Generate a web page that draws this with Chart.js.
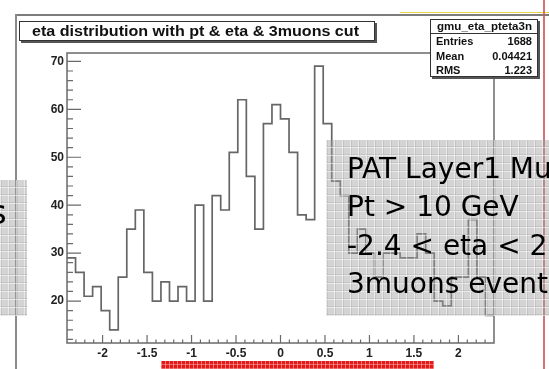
<!DOCTYPE html>
<html>
<head>
<meta charset="utf-8">
<script src="https://cdn.jsdelivr.net/npm/chart.js@4.4.1/dist/chart.umd.min.js"></script>
<style>
  body { margin: 0; background: #fff; }
  #wrap { position: relative; width: 549px; height: 369px; overflow: hidden; background: #fff; }
  #grafico { position: absolute; left: 0; top: 0; }
  .caja { position: absolute; background: #fff; border: 1px solid #333; box-shadow: 2px 2px 0 #555; font-family: "Liberation Sans", Arial, sans-serif; font-weight: bold; color: #111; }
  .linea { position: absolute; white-space: nowrap; transform-origin: 0 50%; }
  .trama {
    position: absolute;
    background-color: rgba(160,160,160,0.45);
    background-image:
      repeating-linear-gradient(0deg, rgba(255,255,255,0.5) 0 1px, rgba(150,150,150,0.25) 1px 2px, transparent 2px 8px),
      repeating-linear-gradient(90deg, rgba(255,255,255,0.5) 0 1px, rgba(150,150,150,0.25) 1px 2px, transparent 2px 8px);
    font-family: "DejaVu Sans", sans-serif;
    color: #000;
  }
</style>
</head>
<body>
<div id="wrap">
  <canvas id="grafico" width="549" height="369"></canvas>

  <div style="position:absolute;left:400px;top:12px;width:149px;height:1px;background:#e4d84a"></div>
  <div style="position:absolute;left:15px;top:14px;width:534px;height:2px;background:#7c7c7c"></div>
  <div style="position:absolute;left:15px;top:14px;width:2px;height:355px;background:#8a8a8a"></div>
  <div style="position:absolute;left:543px;top:0;width:2px;height:369px;background:rgba(205,90,90,0.85)"></div>

  <div class="caja" id="titulo" style="left:19px;top:21px;width:354px;height:18px">
    <span class="linea" id="tituloTxt" style="left:12px;top:1px;font-size:14px;line-height:17px"></span>
  </div>

  <div class="caja" id="stats" style="left:430px;top:19px;width:106px;height:56px">
    <div style="position:absolute;left:0;top:13px;width:106px;height:1px;background:#333"></div>
  </div>

  <div class="trama" style="left:0;top:180px;width:27px;height:136px">
    <span class="linea" style="left:-11px;top:12px;font-size:34px;line-height:40px">s</span>
  </div>

  <div class="trama" id="cajaPat" style="left:326px;top:140px;width:240px;height:176px"></div>

  <div style="position:absolute;left:161px;top:361px;width:273px;height:8px;background-color:#e41a1a;
    background-image:repeating-linear-gradient(90deg, rgba(255,190,190,0.55) 0 1px, transparent 1px 4px),
    repeating-linear-gradient(0deg, rgba(255,190,190,0.45) 0 1px, transparent 1px 4px)"></div>
</div>

<script>
// histogram of muon eta, 50 bins between -2.4 and 2.4
const etaMin = -2.4;
const etaMax = 2.4;
const cuentas = [
  29, 26, 21, 23, 18, 14, 25, 35, 39, 26,
  20, 24, 20, 23, 20, 40, 20, 42, 39, 51,
  62, 46, 35, 57, 61, 58, 51, 38, 37, 69,
  57, 45, 42, 30, 35, 30, 25, 30, 30, 29,
  29, 34, 30, 20, 19, 25, 25, 37, 25, 17
];

const ticksX = [-2, -1.5, -1, -0.5, 0, 0.5, 1, 1.5, 2];
const ticksY = [20, 30, 40, 50, 60, 70];
const yMin = 11.25;
const yMax = 71.75;

const tituloHist = 'eta distribution with pt & eta & 3muons cut';
const nombreHist = 'gmu_eta_pteta3n';
const statsNombres = ['Entries', 'Mean', 'RMS'];
const statsValores = ['1688', '0.04421', '1.223'];
const lineasTexto = ['PAT Layer1 Muons', 'Pt > 10 GeV', '-2.4 < eta < 2.4', '3muons events'];

const anchoBin = (etaMax - etaMin) / cuentas.length;
let puntos = cuentas.map((c, i) => ({x: etaMin + i * anchoBin, y: c}));
puntos.push({x: etaMax, y: cuentas[cuentas.length - 1]});

// frame and inward ticks, ROOT style
const marco = {
  id: 'marco',
  afterDatasetsDraw(chart){
    const ctx = chart.ctx;
    const a = chart.chartArea;
    const sx = chart.scales.x;
    const sy = chart.scales.y;
    ctx.save();
    ctx.strokeStyle = '#6a6a6a';
    ctx.lineWidth = 1.5;
    ctx.strokeRect(a.left, a.top, a.right - a.left, a.bottom - a.top);
    ctx.lineWidth = 1.2;
    ctx.beginPath();
    for(let i = -23; i <= 23; i++){
      const px = sx.getPixelForValue(i / 10);
      const largo = (i % 5 === 0) ? 8 : 3.5;
      ctx.moveTo(px, a.bottom);
      ctx.lineTo(px, a.bottom - largo);
    }
    for(let v = 12; v <= 70; v += 2){
      const py = sy.getPixelForValue(v);
      const largo = (v % 10 === 0) ? 14 : 6;
      ctx.moveTo(a.left, py);
      ctx.lineTo(a.left + largo, py);
    }
    ctx.stroke();
    ctx.restore();
  }
};

const fuenteEje = {family: "'Liberation Sans', Arial, sans-serif", size: 12, weight: 'bold'};

new Chart(document.querySelector('#grafico').getContext('2d'), {
  type: 'line',
  data: {
    datasets: [{
      label: nombreHist,
      data: puntos,
      stepped: true,
      borderColor: '#666',
      borderWidth: 1.7,
      pointRadius: 0,
      fill: false
    }]
  },
  options: {
    responsive: false,
    animation: false,
    devicePixelRatio: 1,
    layout: {padding: {left: 0, top: 53, right: 55, bottom: 6}},
    plugins: {legend: {display: false}, tooltip: {enabled: false}, title: {display: false}},
    scales: {
      x: {
        type: 'linear',
        min: etaMin,
        max: etaMax,
        grid: {display: false, drawTicks: false},
        border: {display: false},
        afterBuildTicks: s => { s.ticks = ticksX.map(v => ({value: v})); },
        afterFit: s => { s.height = 20; },
        ticks: {font: fuenteEje, color: '#222', padding: 3, maxRotation: 0, autoSkip: false,
                callback: v => String(v)}
      },
      y: {
        type: 'linear',
        min: yMin,
        max: yMax,
        grid: {display: false, drawTicks: false},
        border: {display: false},
        afterBuildTicks: s => { s.ticks = ticksY.map(v => ({value: v})); },
        afterFit: s => { s.width = 67; },
        ticks: {font: fuenteEje, color: '#222', padding: 3, autoSkip: false,
                callback: v => String(v)}
      }
    }
  },
  plugins: [marco]
});

// text boxes
function estirar(el, ancho){
  const w = el.getBoundingClientRect().width;
  el.style.transform = 'scaleX(' + (ancho / w) + ')';
}

const tituloTxt = document.querySelector('#tituloTxt');
tituloTxt.textContent = tituloHist;
estirar(tituloTxt, 327);

const stats = document.querySelector('#stats');
const cab = document.createElement('span');
cab.className = 'linea';
cab.textContent = nombreHist;
cab.style.cssText = 'left:6px;top:0px;font-size:11px;line-height:13px';
stats.appendChild(cab);
estirar(cab, 95);
statsNombres.forEach((n, i) => {
  const izq = document.createElement('span');
  izq.className = 'linea';
  izq.textContent = n;
  izq.style.cssText = 'left:5px;top:' + (15 + i * 14.5) + 'px;font-size:11px;line-height:13px';
  stats.appendChild(izq);
  const der = document.createElement('span');
  der.className = 'linea';
  der.textContent = statsValores[i];
  der.style.cssText = 'right:5px;top:' + (15 + i * 14.5) + 'px;font-size:11px;line-height:13px';
  stats.appendChild(der);
});

const cajaPat = document.querySelector('#cajaPat');
lineasTexto.forEach((t, i) => {
  const s = document.createElement('span');
  s.className = 'linea';
  s.textContent = t;
  s.style.cssText = 'left:21px;top:' + (13 + i * 38.3) + 'px;font-size:28px;line-height:32px';
  cajaPat.appendChild(s);
});
</script>
</body>
</html>
